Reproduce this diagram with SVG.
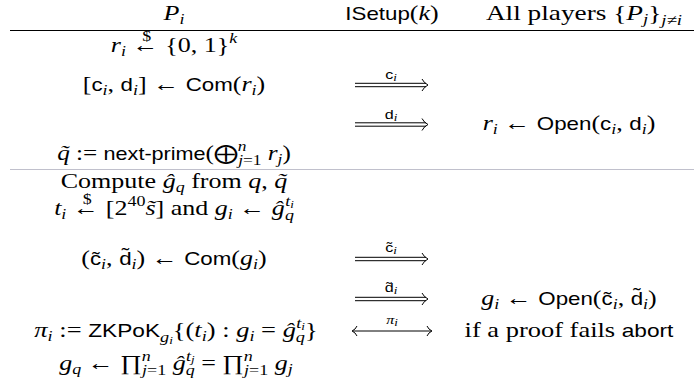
<svg xmlns="http://www.w3.org/2000/svg" width="694" height="388" viewBox="0 0 694 388">
<style>
text { font-family: "Liberation Serif", serif; font-size: 21px; fill: #000; text-anchor: middle; }
.m { font-style: italic; }
.s { font-family: "Liberation Sans", sans-serif; font-style: normal; font-size: 18px; }
.sc { font-size: 14.5px; }
.ss { font-size: 10.5px; }
.ls { font-family: "Liberation Sans", sans-serif; font-size: 13px; }
.rule { stroke: #000; stroke-width: 1; }
.grey { stroke: #c0c0cc; stroke-width: 1.2; }
.arr { stroke: #000; stroke-width: 1; fill: none; }
</style>
<defs>
  <g id="dbl">
    <line x1="0" y1="-1.7" x2="71" y2="-1.7" class="arr"/>
    <line x1="0" y1="1.7" x2="71" y2="1.7" class="arr"/>
    <path d="M67,-6 Q69,-2 73,0 Q69,2 67,6" class="arr"/>
  </g>
  <g id="bi">
    <line x1="1" y1="0" x2="79" y2="0" class="arr"/>
    <path d="M75,-5 Q76.5,-1.5 80,0 Q76.5,1.5 75,5" class="arr"/>
    <path d="M5,-5 Q3.5,-1.5 0,0 Q3.5,1.5 5,5" class="arr"/>
  </g>
</defs>

<g id="header">
  <text transform="translate(174,20) scale(1.24,1)"><tspan class="m">P</tspan><tspan class="m sc" dy="4">i</tspan></text>
  <text transform="translate(392,20) scale(1.24,1)"><tspan class="s">ISetup</tspan>(<tspan class="m">k</tspan>)</text>
  <text transform="translate(584,20) scale(1.3,1)">All players {<tspan class="m">P</tspan><tspan class="m sc" dy="4">j</tspan><tspan dy="-4">}</tspan><tspan class="m sc" dy="5">j≠i</tspan></text>
  <line x1="10" y1="30.5" x2="694" y2="30.5" class="rule"/>
  <line x1="10" y1="169.5" x2="694" y2="169.5" class="grey"/>
</g>

<g id="p-row1">
  <text transform="translate(174,52) scale(1.24,1)"><tspan class="m">r</tspan><tspan class="m sc" dy="4">i</tspan><tspan dy="-4"> ←</tspan><tspan class="sc" dx="-13" dy="-11">$</tspan><tspan dx="6" dy="11"> {0, 1}</tspan><tspan class="m sc" dy="-9">k</tspan></text>
</g>
<g id="p-row2">
  <text transform="translate(174,91) scale(1.24,1)">[<tspan class="s">c</tspan><tspan class="m sc" dy="4">i</tspan><tspan dy="-4">, </tspan><tspan class="s">d</tspan><tspan class="m sc" dy="4">i</tspan><tspan dy="-4">] ← </tspan><tspan class="s">Com</tspan>(<tspan class="m">r</tspan><tspan class="m sc" dy="4">i</tspan><tspan dy="-4">)</tspan></text>
</g>
<g id="p-row3">
  <text transform="translate(174,160) scale(1.2,1)"><tspan class="m">q̃</tspan> := <tspan class="s">next-prime</tspan>(<tspan font-size="20">⨁</tspan><tspan class="m sc" dy="-9">n</tspan><tspan class="m sc" dx="-7" dy="14">j</tspan><tspan class="sc">=1</tspan><tspan dy="-5"> </tspan><tspan class="m">r</tspan><tspan class="m sc" dy="4">j</tspan><tspan dy="-4">)</tspan></text>
</g>
<g id="p-row4">
  <text transform="translate(174,188) scale(1.24,1)">Compute <tspan class="m">ĝ</tspan><tspan class="m sc" dy="4">q</tspan><tspan dy="-4"> from </tspan><tspan class="m">q</tspan>, <tspan class="m">q̃</tspan></text>
</g>
<g id="p-row5">
  <text transform="translate(174,215) scale(1.24,1)"><tspan class="m">t</tspan><tspan class="m sc" dy="4">i</tspan><tspan dy="-4"> ←</tspan><tspan class="sc" dx="-13" dy="-11">$</tspan><tspan dx="6" dy="11"> [2</tspan><tspan class="sc" dy="-9">40</tspan><tspan class="m" dy="9">s̃</tspan>] and <tspan class="m">g</tspan><tspan class="m sc" dy="4">i</tspan><tspan dy="-4"> ← </tspan><tspan class="m">ĝ</tspan><tspan class="m sc" dy="5">q</tspan><tspan class="m sc" dx="-7" dy="-14">t</tspan><tspan class="m ss" dy="2">i</tspan></text>
</g>
<g id="p-row6">
  <text transform="translate(174,265) scale(1.24,1)">(<tspan class="s">c̃</tspan><tspan class="m sc" dy="4">i</tspan><tspan dy="-4">, </tspan><tspan class="s">d</tspan><tspan class="s" dx="-8" dy="-4">˜</tspan><tspan class="m sc" dx="2" dy="8">i</tspan><tspan dy="-4">) ← </tspan><tspan class="s">Com</tspan>(<tspan class="m">g</tspan><tspan class="m sc" dy="4">i</tspan><tspan dy="-4">)</tspan></text>
</g>
<g id="p-row7">
  <text transform="translate(176,337) scale(1.26,1)"><tspan class="m">π</tspan><tspan class="m sc" dy="4">i</tspan><tspan dy="-4"> := </tspan><tspan class="s">ZKPoK</tspan><tspan class="m sc" dy="5">g</tspan><tspan class="m ss" dy="2">i</tspan><tspan dy="-7">{(</tspan><tspan class="m">t</tspan><tspan class="m sc" dy="4">i</tspan><tspan dy="-4">) : </tspan><tspan class="m">g</tspan><tspan class="m sc" dy="4">i</tspan><tspan dy="-4"> = </tspan><tspan class="m">ĝ</tspan><tspan class="m sc" dy="5">q</tspan><tspan class="m sc" dx="-7" dy="-14">t</tspan><tspan class="m ss" dy="2">i</tspan><tspan dy="7">}</tspan></text>
</g>
<g id="p-row8">
  <text transform="translate(176,370) scale(1.24,1)"><tspan class="m">g</tspan><tspan class="m sc" dy="4">q</tspan><tspan dy="-4"> ← ∏</tspan><tspan class="m sc" dy="-9">n</tspan><tspan class="m sc" dx="-7" dy="14">j</tspan><tspan class="sc">=1</tspan><tspan class="m" dy="-5"> ĝ</tspan><tspan class="m sc" dy="5">q</tspan><tspan class="m sc" dx="-7" dy="-14">t</tspan><tspan class="m ss" dy="2">j</tspan><tspan dy="7"> = ∏</tspan><tspan class="m sc" dy="-9">n</tspan><tspan class="m sc" dx="-7" dy="14">j</tspan><tspan class="sc">=1</tspan><tspan class="m" dy="-5"> g</tspan><tspan class="m sc" dy="4">j</tspan></text>
</g>

<g id="q-row1">
  <text transform="translate(569,130) scale(1.24,1)"><tspan class="m">r</tspan><tspan class="m sc" dy="4">i</tspan><tspan dy="-4"> ← </tspan><tspan class="s">Open</tspan>(<tspan class="s">c</tspan><tspan class="m sc" dy="4">i</tspan><tspan dy="-4">, </tspan><tspan class="s">d</tspan><tspan class="m sc" dy="4">i</tspan><tspan dy="-4">)</tspan></text>
</g>
<g id="q-row2">
  <text transform="translate(569,305) scale(1.24,1)"><tspan class="m">g</tspan><tspan class="m sc" dy="4">i</tspan><tspan dy="-4"> ← </tspan><tspan class="s">Open</tspan>(<tspan class="s">c̃</tspan><tspan class="m sc" dy="4">i</tspan><tspan dy="-4">, </tspan><tspan class="s">d</tspan><tspan class="s" dx="-8" dy="-4">˜</tspan><tspan class="m sc" dx="2" dy="8">i</tspan><tspan dy="-4">)</tspan></text>
</g>
<g id="q-row3">
  <text transform="translate(569,337) scale(1.26,1)">if a proof fails <tspan class="s">abort</tspan></text>
</g>

<g id="connectors">
  <use href="#dbl" x="355" y="85"/>
  <text transform="translate(391,79) scale(1.24,1)"><tspan class="ls">c</tspan><tspan class="m ss" dy="2">i</tspan></text>
  <use href="#dbl" x="355" y="124.5"/>
  <text transform="translate(391,119) scale(1.24,1)"><tspan class="ls">d</tspan><tspan class="m ss" dy="2">i</tspan></text>
  <use href="#dbl" x="355" y="259"/>
  <text transform="translate(391,252) scale(1.24,1)"><tspan class="ls">c̃</tspan><tspan class="m ss" dy="2">i</tspan></text>
  <use href="#dbl" x="355" y="299"/>
  <text transform="translate(391,292) scale(1.24,1)"><tspan class="ls">d̃</tspan><tspan class="m ss" dy="2">i</tspan></text>
  <use href="#bi" x="352" y="331"/>
  <text transform="translate(392,324) scale(1.24,1)"><tspan class="m" font-size="13">π</tspan><tspan class="m ss" dy="2">i</tspan></text>
</g>
</svg>
